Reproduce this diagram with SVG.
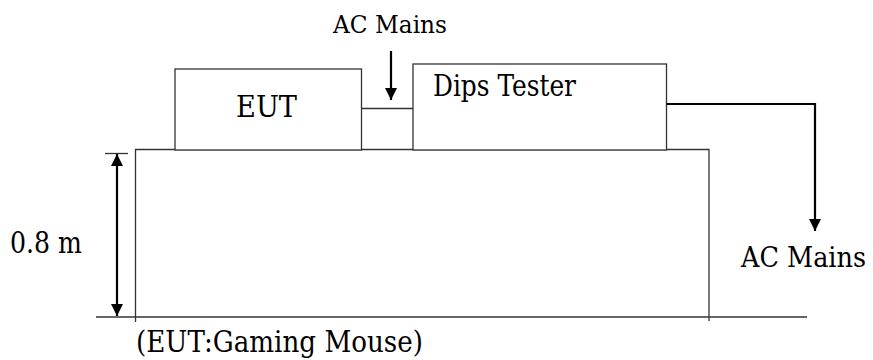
<svg xmlns="http://www.w3.org/2000/svg" width="873" height="360" viewBox="0 0 873 360">
<style>
.t{font-family:"DejaVu Serif",serif;fill:#000}
.box{fill:#fff;stroke:#333;stroke-width:1.3}
.thin{fill:none;stroke:#333;stroke-width:1.3}
.arr{fill:none;stroke:#000;stroke-width:2.2}
</style>
<defs>
<marker id="ah" viewBox="0 0 10 10" refX="10" refY="5" markerWidth="5.5" markerHeight="5.5" orient="auto-start-reverse" markerUnits="strokeWidth">
<path d="M0,0 L10,5 L0,10 z" fill="#000"/>
</marker>
</defs>
<rect width="873" height="360" fill="#fff"/>
<g id="table">
<path class="thin" d="M135.5,322 V149.5 H709 V321"/>
<line class="thin" x1="96" y1="317" x2="807" y2="317"/>
</g>
<g id="eut">
<rect class="box" x="175" y="69" width="186.5" height="81"/>
<text class="t" x="236" y="117" font-size="29" textLength="61" lengthAdjust="spacingAndGlyphs">EUT</text>
</g>
<g id="dips-tester">
<rect class="box" x="413" y="64" width="253.5" height="86"/>
<text class="t" x="433" y="96" font-size="29" textLength="143" lengthAdjust="spacingAndGlyphs">Dips Tester</text>
</g>
<g id="labels">
<text class="t" x="333" y="33" font-size="24" textLength="114" lengthAdjust="spacingAndGlyphs">AC Mains</text>
<text class="t" x="741" y="267" font-size="27" textLength="125" lengthAdjust="spacingAndGlyphs">AC Mains</text>
<text class="t" x="10" y="253" font-size="29" textLength="72" lengthAdjust="spacingAndGlyphs">0.8 m</text>
<text class="t" x="136" y="352" font-size="29" textLength="287" lengthAdjust="spacingAndGlyphs">(EUT:Gaming Mouse)</text>
</g>
<g id="connectors">
<line class="thin" x1="361.5" y1="108.5" x2="413" y2="108.5"/>
<line class="arr" x1="391" y1="51" x2="391" y2="100" marker-end="url(#ah)"/>
<path class="arr" d="M666.5,104 H815 V231" marker-end="url(#ah)"/>
<line class="thin" x1="105" y1="153.5" x2="128" y2="153.5"/>
<line class="arr" x1="117" y1="154" x2="117" y2="316" marker-start="url(#ah)" marker-end="url(#ah)"/>
</g>
</svg>
